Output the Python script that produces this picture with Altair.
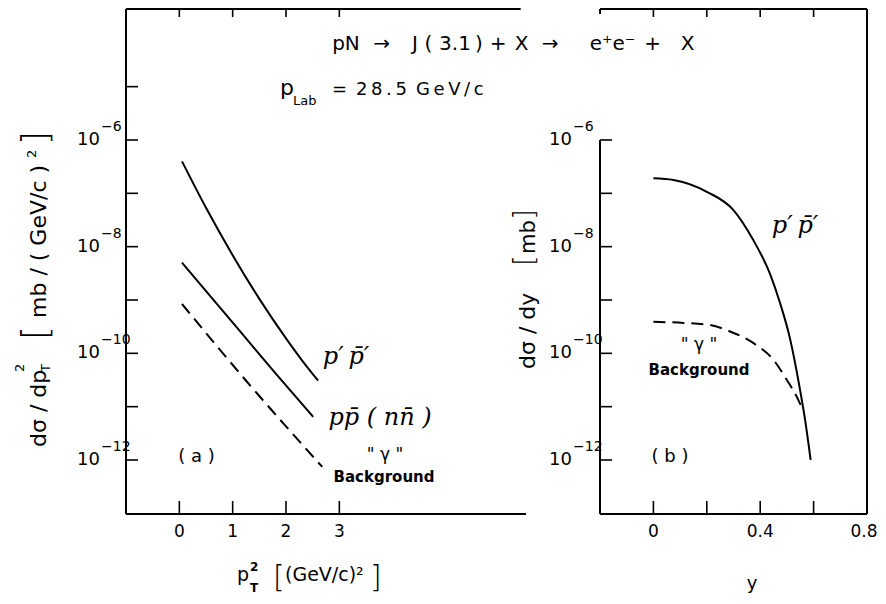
import altair as alt
import pandas as pd

# ---------------- values ----------------
# panel (a): dsigma/dpT^2 [mb/(GeV/c)^2] versus pT^2 [(GeV/c)^2]
pt2_ppprime = [0.05, 0.5, 1.0, 1.5, 2.0, 2.3, 2.6]
sig_ppprime = [3.98e-7, 5.37e-8, 6.92e-9, 1.05e-9, 1.91e-10, 7.41e-11, 3.09e-11]
pt2_ppbar = [0.05, 0.6, 1.2, 1.8, 2.51]
sig_ppbar = [5.01e-9, 1.12e-9, 2.19e-10, 4.27e-11, 6.46e-12]
pt2_gamma = [0.05, 0.7, 1.3, 2.0, 2.68]
sig_gamma = [8.41e-10, 1.38e-10, 2.69e-11, 4.27e-12, 7.41e-13]

# panel (b): dsigma/dy [mb] versus y
y_ppprime = [0.0, 0.075, 0.2, 0.299, 0.374, 0.436, 0.474, 0.511, 0.548, 0.567, 0.589]
dsdy_ppprime = [1.91e-7, 1.78e-7, 1.07e-7, 4.9e-8, 1.33e-8, 3.16e-9, 8.9e-10,
                1.95e-10, 2.24e-11, 6.17e-12, 1.0e-12]
y_gamma = [0.0, 0.113, 0.212, 0.287, 0.375, 0.45, 0.5, 0.543, 0.562]
dsdy_gamma = [3.89e-10, 3.72e-10, 3.39e-10, 2.57e-10, 1.55e-10, 7.5e-11,
              3.16e-11, 1.33e-11, 8.1e-12]

# ticks and tick labels
pt2_ticks = [0, 1, 2, 3]
pt2_ticklabels = ["0", "1", "2", "3"]
y_ticks = [0.0, 0.2, 0.4, 0.6]
y_labelvals = [0.0, 0.4]
y_ticklabels = ["0", "0.4"]
y_lastval = [0.8]
y_lastlabel = ["0.8"]
decades_a = [1e-12, 1e-11, 1e-10, 1e-9, 1e-8, 1e-7, 1e-6, 1e-5]
decades_b = [1e-12, 1e-11, 1e-10, 1e-9, 1e-8, 1e-7, 1e-6]
label_decades = [1e-12, 1e-10, 1e-8, 1e-6]
label_exps = ["\u221212", "\u221210", "\u22128", "\u22126"]

# ---------------- layout ----------------
W, H = 741, 505
OX, OY = 126, 9          # page position of the plot origin
YMIN, YMAX = 10 ** -13.0125, 10 ** -3.544
XA = (-1.0, 6.5)
XB = (-0.2, 0.8)
SANS = "DejaVu Sans"
SERIF = "DejaVu Serif"

ysc = alt.Scale(type="log", domain=[YMIN, YMAX], nice=False)
xsa = alt.Scale(domain=list(XA), range=[0, 400], nice=False, zero=False)
xsb = alt.Scale(domain=list(XB), range=[474, 741], nice=False, zero=False)


def Y(f):
    return alt.Y(f, type="quantitative", scale=ysc, axis=None)


def XA_(f):
    return alt.X(f, type="quantitative", scale=xsa, axis=None)


def XB_(f):
    return alt.X(f, type="quantitative", scale=xsb, axis=None)


ONE = pd.DataFrame({"a": [0]})


def note(s, px, py, size=18, align="center", baseline="middle", angle=0,
         weight="normal", style="normal", font=SANS):
    return alt.Chart(ONE).mark_text(
        text=s, align=align, baseline=baseline, angle=angle, fontSize=size,
        fontWeight=weight, fontStyle=style, font=font, color="black"
    ).encode(x=alt.value(px - OX), y=alt.value(py - OY))


layers = []

# ---------- frames ----------
frame_a = pd.DataFrame({
    "x": [XA[0], XA[0], XA[0]],
    "x2": [XA[0], 6.4, XA[1]],
    "y": [YMIN, YMAX, YMIN],
    "y2": [YMAX, YMAX, YMIN],
})
frame_b = pd.DataFrame({
    "x": [XB[0], XB[0], XB[0], XB[1], XB[0]],
    "x2": [XB[0], XB[0], XB[1], XB[1], XB[1]],
    "y": [YMIN, 10 ** -3.64, YMAX, YMIN, YMIN],
    "y2": [1e-6, YMAX, YMAX, YMAX, YMIN],
})
layers.append(alt.Chart(frame_a).mark_rule(color="black", strokeWidth=2).encode(
    x=XA_("x"), x2="x2", y=Y("y"), y2="y2"))
layers.append(alt.Chart(frame_b).mark_rule(color="black", strokeWidth=2).encode(
    x=XB_("x"), x2="x2", y=Y("y"), y2="y2"))

# ---------- ticks ----------
layers.append(alt.Chart(pd.DataFrame({"v": decades_a})).mark_rule(
    color="black", strokeWidth=1.6).encode(y=Y("v"), x=alt.value(0), x2=alt.value(12)))
layers.append(alt.Chart(pd.DataFrame({"v": decades_b})).mark_rule(
    color="black", strokeWidth=1.6).encode(y=Y("v"), x=alt.value(474), x2=alt.value(486)))
ta = pd.DataFrame({"t": pt2_ticks})
tb = pd.DataFrame({"t": y_ticks})
layers.append(alt.Chart(ta).mark_rule(color="black", strokeWidth=1.6).encode(
    x=XA_("t"), y=alt.value(H), y2=alt.value(H - 13)))
layers.append(alt.Chart(ta).mark_rule(color="black", strokeWidth=1.6).encode(
    x=XA_("t"), y=alt.value(0), y2=alt.value(8)))
layers.append(alt.Chart(tb).mark_rule(color="black", strokeWidth=1.6).encode(
    x=XB_("t"), y=alt.value(H), y2=alt.value(H - 13)))
layers.append(alt.Chart(tb).mark_rule(color="black", strokeWidth=1.6).encode(
    x=XB_("t"), y=alt.value(0), y2=alt.value(8)))

# ---------- tick labels ----------
ld = pd.DataFrame({"v": label_decades, "e": label_exps})
for x10 in (100 - OX, 572 - OX):
    layers.append(alt.Chart(ld).mark_text(
        text="10", align="right", baseline="middle", fontSize=18, font=SANS, color="black"
    ).encode(y=Y("v"), x=alt.value(x10)))
    layers.append(alt.Chart(ld).mark_text(
        align="left", baseline="middle", fontSize=14, font=SANS, color="black", dy=-13, dx=1
    ).encode(y=Y("v"), x=alt.value(x10), text="e:N"))
layers.append(alt.Chart(pd.DataFrame({"t": pt2_ticks, "s": pt2_ticklabels})).mark_text(
    baseline="middle", fontSize=17, font=SANS, color="black"
).encode(x=XA_("t"), y=alt.value(532 - OY), text="s:N"))
layers.append(alt.Chart(pd.DataFrame({"t": y_labelvals, "s": y_ticklabels})).mark_text(
    baseline="middle", fontSize=17, font=SANS, color="black"
).encode(x=XB_("t"), y=alt.value(532 - OY), text="s:N"))
layers.append(alt.Chart(pd.DataFrame({"t": y_lastval, "s": y_lastlabel})).mark_text(
    baseline="middle", fontSize=17, font=SANS, color="black", dx=-3
).encode(x=XB_("t"), y=alt.value(532 - OY), text="s:N"))

# ---------- curves ----------
def curve(xs, vs, scale_fn, dashed=False):
    m = dict(color="black", strokeWidth=2, interpolate="monotone")
    if dashed:
        m["strokeDash"] = [12, 7]
    return alt.Chart(pd.DataFrame({"x": xs, "v": vs})).mark_line(**m).encode(
        x=scale_fn("x"), y=Y("v"))


layers.append(curve(pt2_ppprime, sig_ppprime, XA_))
layers.append(curve(pt2_ppbar, sig_ppbar, XA_))
layers.append(curve(pt2_gamma, sig_gamma, XA_, dashed=True))
layers.append(curve(y_ppprime, dsdy_ppprime, XB_))
layers.append(curve(y_gamma, dsdy_gamma, XB_, dashed=True))

# ---------- title lines ----------
for s, px in [("pN", 346), ("\u2192", 381.5), ("J", 415), ("(", 428.5), ("3.1", 455),
              (")", 479), ("+", 498), ("X", 521.5), ("\u2192", 550),
              ("e\u207ae\u207b", 612.5), ("+", 652.5), ("X", 687.5)]:
    layers.append(note(s, px, 44, size=20))
layers.append(note("p", 280, 95, size=22, align="left", baseline="alphabetic"))
layers.append(note("Lab", 293, 105, size=13, align="left", baseline="alphabetic"))
layers.append(note("=", 332, 95, size=18, align="left", baseline="alphabetic"))
layers.append(note("2\u20098\u2009.\u20095", 356, 95, size=18, align="left", baseline="alphabetic"))
layers.append(note("G\u2009e\u2009V\u2009/\u2009c", 416, 95, size=18, align="left", baseline="alphabetic"))

# ---------- axis titles ----------
# left y title (rotated, reading upwards)
layers.append(note("d\u03c3 / dp", 46, 447, size=22, align="left", baseline="alphabetic", angle=270))
layers.append(note("2", 24, 372, size=13, align="left", baseline="alphabetic", angle=270))
layers.append(note("T", 50, 372, size=13, align="left", baseline="alphabetic", angle=270))
layers.append(note("[", 47, 340, size=36, align="left", baseline="alphabetic", angle=270,
                   weight=200))
layers.append(note("mb / ( GeV/c )", 46, 318, size=22, align="left", baseline="alphabetic", angle=270))
layers.append(note("2", 36, 158, size=13, align="left", baseline="alphabetic", angle=270))
layers.append(note("]", 47, 145, size=36, align="left", baseline="alphabetic", angle=270,
                   weight=200))
# right y title
layers.append(note("d\u03c3 / dy", 535, 369, size=22, align="left", baseline="alphabetic", angle=270))
layers.append(note("[", 534, 266, size=28, align="left", baseline="alphabetic", angle=270,
                   weight=200))
layers.append(note("mb", 535, 254, size=21, align="left", baseline="alphabetic", angle=270))
layers.append(note("]", 534, 220, size=28, align="left", baseline="alphabetic", angle=270,
                   weight=200))
# left x title
layers.append(note("p", 237, 581, size=19, align="left", baseline="alphabetic"))
layers.append(note("2", 250, 571, size=12, align="left", baseline="alphabetic", weight="bold"))
layers.append(note("T", 250, 592, size=12, align="left", baseline="alphabetic", weight="bold"))
layers.append(note("[", 273, 587, size=30, align="left", baseline="alphabetic", weight=200))
layers.append(note("(GeV/c)\u00b2", 285, 581, size=19, align="left", baseline="alphabetic"))
layers.append(note("]", 370, 587, size=30, align="left", baseline="alphabetic", weight=200))
# right x title
layers.append(note("y", 752, 589, size=18, baseline="alphabetic"))

# ---------- curve labels ----------
layers.append(note("p\u2032\u2009p\u0304\u2032", 346, 357, size=24, style="italic", font=SERIF))
layers.append(note("pp\u0304 ( nn\u0304 )", 380, 418, size=24, style="italic", font=SERIF))
layers.append(note("\" \u03b3 \"", 385, 455, size=17))
layers.append(note("Background", 384, 477, size=15, weight="bold"))
layers.append(note("( a )", 196.5, 457, size=18))
layers.append(note("p\u2032\u2009p\u0304\u2032", 795, 226, size=24, style="italic", font=SERIF))
layers.append(note("\" \u03b3 \"", 699, 345, size=17))
layers.append(note("Background", 699, 370, size=15, weight="bold"))
layers.append(note("( b )", 670, 457, size=18))

chart = alt.layer(*layers).resolve_scale(x="independent").properties(
    width=W, height=H,
    autosize=alt.AutoSizeParams(type="none"),
    padding={"left": OX - 8, "top": OY - 8, "right": 10, "bottom": 82},
).configure_view(stroke=None)

chart.save("out.html", embed_options={"renderer": "svg", "actions": False})
